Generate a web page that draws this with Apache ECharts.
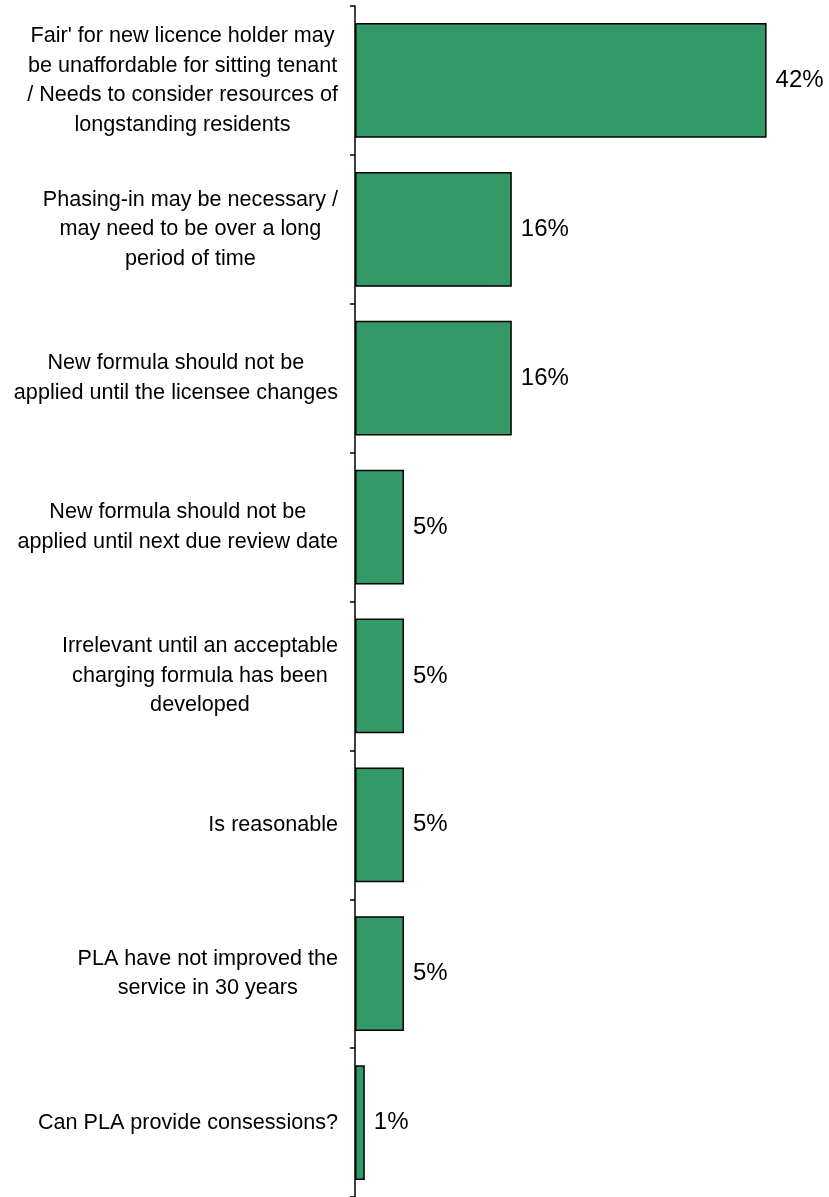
<!DOCTYPE html>
<html>
<head>
<meta charset="utf-8">
<script src="https://cdn.jsdelivr.net/npm/echarts@6/dist/echarts.min.js"></script>
<style>
  html, body { margin: 0; padding: 0; background: #fff; }
  #chart { width: 829px; height: 1197px; }
</style>
</head>
<body>
<div id="chart"></div>
<script>
// categories, top to bottom
const categories = [
  "Fair' for new licence holder may\nbe unaffordable for sitting tenant\n/ Needs to consider resources of\nlongstanding residents",
  'Phasing-in may be necessary /\nmay need to be over a long\nperiod of time',
  'New formula should not be\napplied until the licensee changes',
  'New formula should not be\napplied until next due review date',
  'Irrelevant until an acceptable\ncharging formula has been\ndeveloped',
  'Is reasonable',
  'PLA have not improved the\nservice in 30 years',
  'Can PLA provide consessions?'
];
const percents = [42, 16, 16, 5, 5, 5, 5, 1];

const chart = echarts.init(document.getElementById('chart'));

const option = {
  animation: false,
  textStyle: { fontFamily: '"Liberation Sans", Arial, sans-serif' },
  grid: { left: 355, right: 33, top: 6, bottom: 0, containLabel: false },
  xAxis: {
    type: 'value',
    min: 0,
    max: 45,
    show: false
  },
  yAxis: {
    type: 'category',
    inverse: true,
    data: categories,
    axisLine: { show: true, lineStyle: { color: '#000', width: 1.5 } },
    axisTick: { show: true, length: 5, lineStyle: { color: '#000', width: 1.5 } },
    axisLabel: {
      margin: 17,
      align: 'right',
      formatter: v => '{c|' + v + '}',
      rich: {
        c: {
          align: 'center',
          fontSize: 21.6,
          lineHeight: 29.5,
          color: '#000',
          fontFamily: '"Liberation Sans", Arial, sans-serif'
        }
      }
    },
    splitLine: { show: false }
  },
  series: [{
    type: 'bar',
    data: percents,
    barCategoryGap: '23%',
    itemStyle: { color: '#339966', borderColor: '#000', borderWidth: 1.5 },
    label: {
      show: true,
      position: 'right',
      distance: 9,
      formatter: '{c}%',
      fontSize: 24,
      color: '#000',
      fontFamily: '"Liberation Sans", Arial, sans-serif'
    }
  }]
};

chart.setOption(option);
</script>
</body>
</html>
